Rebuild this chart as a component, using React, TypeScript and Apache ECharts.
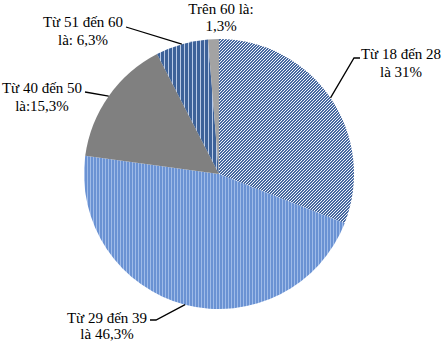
import React, { useEffect, useRef } from 'react';
import * as echarts from 'echarts';

const categories = ['Từ 18 đến 28', 'Từ 29 đến 39', 'Từ 40 đến 50', 'Từ 51 đến 60', 'Trên 60'];
const values = [31, 46.3, 15.3, 6.3, 1.3];
const labelLines1 = ['Từ 18 đến 28', 'Từ 29 đến 39', 'Từ 40 đến 50', 'Từ 51 đến 60', 'Trên 60 là:'];
const labelLines2 = ['là 31%', 'là 46,3%', 'là:15,3%', 'là: 6,3%', '1,3%'];
// label block positions: x centre, y of first and second line
const labelX = [401, 107, 42, 83, 221];
const labelY1 = [54, 318, 88, 22, 9];
const labelY2 = [72, 334, 106, 40, 26];
// where each leader line touches its label (null = no line), plus optional bend point
const lineStarts: ([number, number] | null)[] = [[360, 58], [150, 320], [85, 92], [126, 27], null];
const lineBends: ([number, number] | null)[] = [[354, 58], [156, 320], null, null, null];

function makeTile(size: number, fn: (x: number, y: number) => string) {
  const c = document.createElement('canvas');
  c.width = size;
  c.height = size;
  const ctx = c.getContext('2d')!;
  for (let y = 0; y < size; y++) {
    for (let x = 0; x < size; x++) {
      ctx.fillStyle = fn(x, y);
      ctx.fillRect(x, y, 1, 1);
    }
  }
  return c;
}

export default function App() {
  const ref = useRef<HTMLDivElement>(null);
  useEffect(() => {
    document.body.style.margin = '0';
    const chart = echarts.init(ref.current!, null, { renderer: 'svg' });
    const diag = makeTile(12, (x, y) => ((x + y) % 3 !== 2 ? '#46689f' : '#f2f5fb'));
    const vert = makeTile(12, (x) => (x % 3 === 0 ? '#9fbbe8' : '#6a92d3'));
    const dark = makeTile(12, (x) => (x % 4 === 0 ? '#b9cae6' : '#3d6299'));
    const fills: any[] = [
      { image: diag, repeat: 'repeat' },
      { image: vert, repeat: 'repeat' },
      '#808080',
      { image: dark, repeat: 'repeat' },
      '#a3a3a3',
    ];
    chart.setOption({
      animation: false,
      backgroundColor: '#ffffff',
      series: [
        {
          type: 'pie',
          center: [219, 174],
          radius: 135,
          startAngle: 90,
          clockwise: true,
          label: { show: false },
          labelLine: { show: false },
          emphasis: { disabled: true },
          data: categories.map((name, i) => ({
            name,
            value: values[i],
            itemStyle: { color: fills[i] },
          })),
        },
      ],
    });

    const graphics: any[] = [];
    let data: any = null;
    try {
      data = (chart as any).getModel().getSeriesByIndex(0).getData();
    } catch (e) {
      data = null;
    }
    categories.forEach((_, i) => {
      const start = lineStarts[i];
      if (start && data) {
        const lay = data.getItemLayout(i);
        if (lay) {
          const mid = (lay.startAngle + lay.endAngle) / 2;
          const ax = lay.cx + lay.r * Math.cos(mid);
          const ay = lay.cy + lay.r * Math.sin(mid);
          const pts: number[][] = [start];
          if (lineBends[i]) pts.push(lineBends[i] as number[]);
          pts.push([ax, ay]);
          graphics.push({
            type: 'polyline',
            z: 10,
            shape: { points: pts },
            style: { stroke: '#000', lineWidth: 1.3, fill: null },
            silent: true,
          });
        }
      }
      [labelLines1[i], labelLines2[i]].forEach((t, k) => {
        graphics.push({
          type: 'text',
          z: 11,
          x: labelX[i],
          y: k === 0 ? labelY1[i] : labelY2[i],
          silent: true,
          style: {
            text: t,
            fontFamily: 'Liberation Serif',
            fontSize: 15,
            fill: '#000',
            align: 'center',
            verticalAlign: 'middle',
          },
        });
      });
    });
    chart.setOption({ graphic: graphics });
    return () => chart.dispose();
  }, []);
  return <div ref={ref} style={{ width: 444, height: 343 }} />;
}
